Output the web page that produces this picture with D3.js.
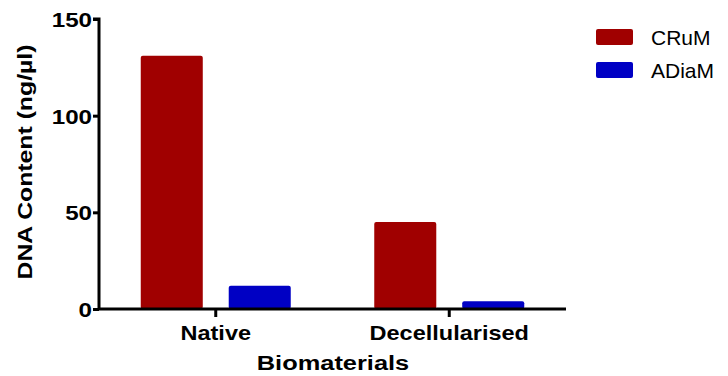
<!DOCTYPE html>
<html><head><meta charset="utf-8">
<script src="https://cdn.jsdelivr.net/npm/d3@7"></script>
<style>body{margin:0;background:#fff}text{font-family:"Liberation Sans",Arial,sans-serif}</style>
</head><body><svg id="c" width="728" height="376"></svg>
<script>
const categories = ["Native", "Decellularised"];
const seriesNames = ["CRuM", "ADiaM"];
const crumValues = [131, 45];
const adiamValues = [12, 4];
const yTicks = [0, 50, 100, 150];
const colors = ["#a00000", "#0000c4"];

const svg = d3.select("#c");
const x0 = 99, x1 = 566, yTop = 19, yBot = 309;
const x = d3.scaleBand().domain(categories).range([x0, x1]).paddingInner(0).paddingOuter(0);
const xs = d3.scaleBand().domain(seriesNames).range([0, 150]).paddingInner(0.295).paddingOuter(0);
const y = d3.scaleLinear().domain([0, 150]).range([yBot, yTop]);
const values = [crumValues, adiamValues];

const g = svg.append("g");
categories.forEach((c, ci) => {
  seriesNames.forEach((s, si) => {
    const bx = x(c) + x.bandwidth() / 2 - 75 + xs(s);
    g.append("rect")
      .attr("x", bx).attr("width", xs.bandwidth())
      .attr("y", y(values[si][ci])).attr("height", y(0) - y(values[si][ci]))
      .attr("rx", 2).attr("fill", colors[si]);
  });
});

// y axis
const yAxis = svg.append("g").attr("transform", `translate(${x0},0)`)
  .call(d3.axisLeft(y).tickValues(yTicks).tickSize(6).tickPadding(3));
yAxis.select(".domain").attr("stroke-width", 3).attr("d", `M-6,${yTop}H0V${yBot}`);
yAxis.selectAll(".tick line").attr("stroke-width", 3);
yAxis.selectAll(".tick text").attr("font-size", 21).attr("font-weight", "bold").attr("fill", "#000")
  .attr("font-family", "Liberation Sans, Arial, sans-serif")
  .attr("transform", "scale(1.15,1)").attr("x", -7 / 1.15).attr("dy", "0.35em");

// x axis
const xAxis = svg.append("g").attr("transform", `translate(0,${yBot})`)
  .call(d3.axisBottom(x).tickSize(8).tickPadding(8));
xAxis.select(".domain").attr("stroke-width", 3).attr("d", `M${x0},0H${x1}`);
xAxis.selectAll(".tick line").attr("stroke-width", 3);
xAxis.selectAll(".tick text").attr("font-size", 21).attr("font-weight", "bold").attr("fill", "#000")
  .attr("font-family", "Liberation Sans, Arial, sans-serif")
  .attr("dy", null).attr("y", 31)
  .attr("transform", "scale(1.12,1)")
  .attr("x", 0);
xAxis.selectAll(".tick").each(function(d){
  const cx = x(d) + x.bandwidth() / 2;
  d3.select(this).attr("transform", `translate(${cx},0)`);
});

// axis titles
svg.append("text").attr("transform", `translate(333,370) scale(1.24,1)`)
  .attr("text-anchor", "middle").attr("font-size", 20.5).attr("font-weight", "bold")
  .text("Biomaterials");
svg.append("text").attr("transform", `translate(32,162) rotate(-90) scale(1.18,1)`)
  .attr("text-anchor", "middle").attr("font-size", 21).attr("font-weight", "bold")
  .text("DNA Content (ng/µl)");

// legend
const leg = svg.append("g");
seriesNames.forEach((s, i) => {
  leg.append("rect").attr("x", 596).attr("y", 29 + i * 33).attr("width", 37).attr("height", 16)
    .attr("rx", 2).attr("fill", colors[i]);
  leg.append("text").attr("x", 651).attr("y", 45 + i * 33).attr("font-size", 21).attr("fill", "#000")
    .text(s);
});
</script></body></html>
